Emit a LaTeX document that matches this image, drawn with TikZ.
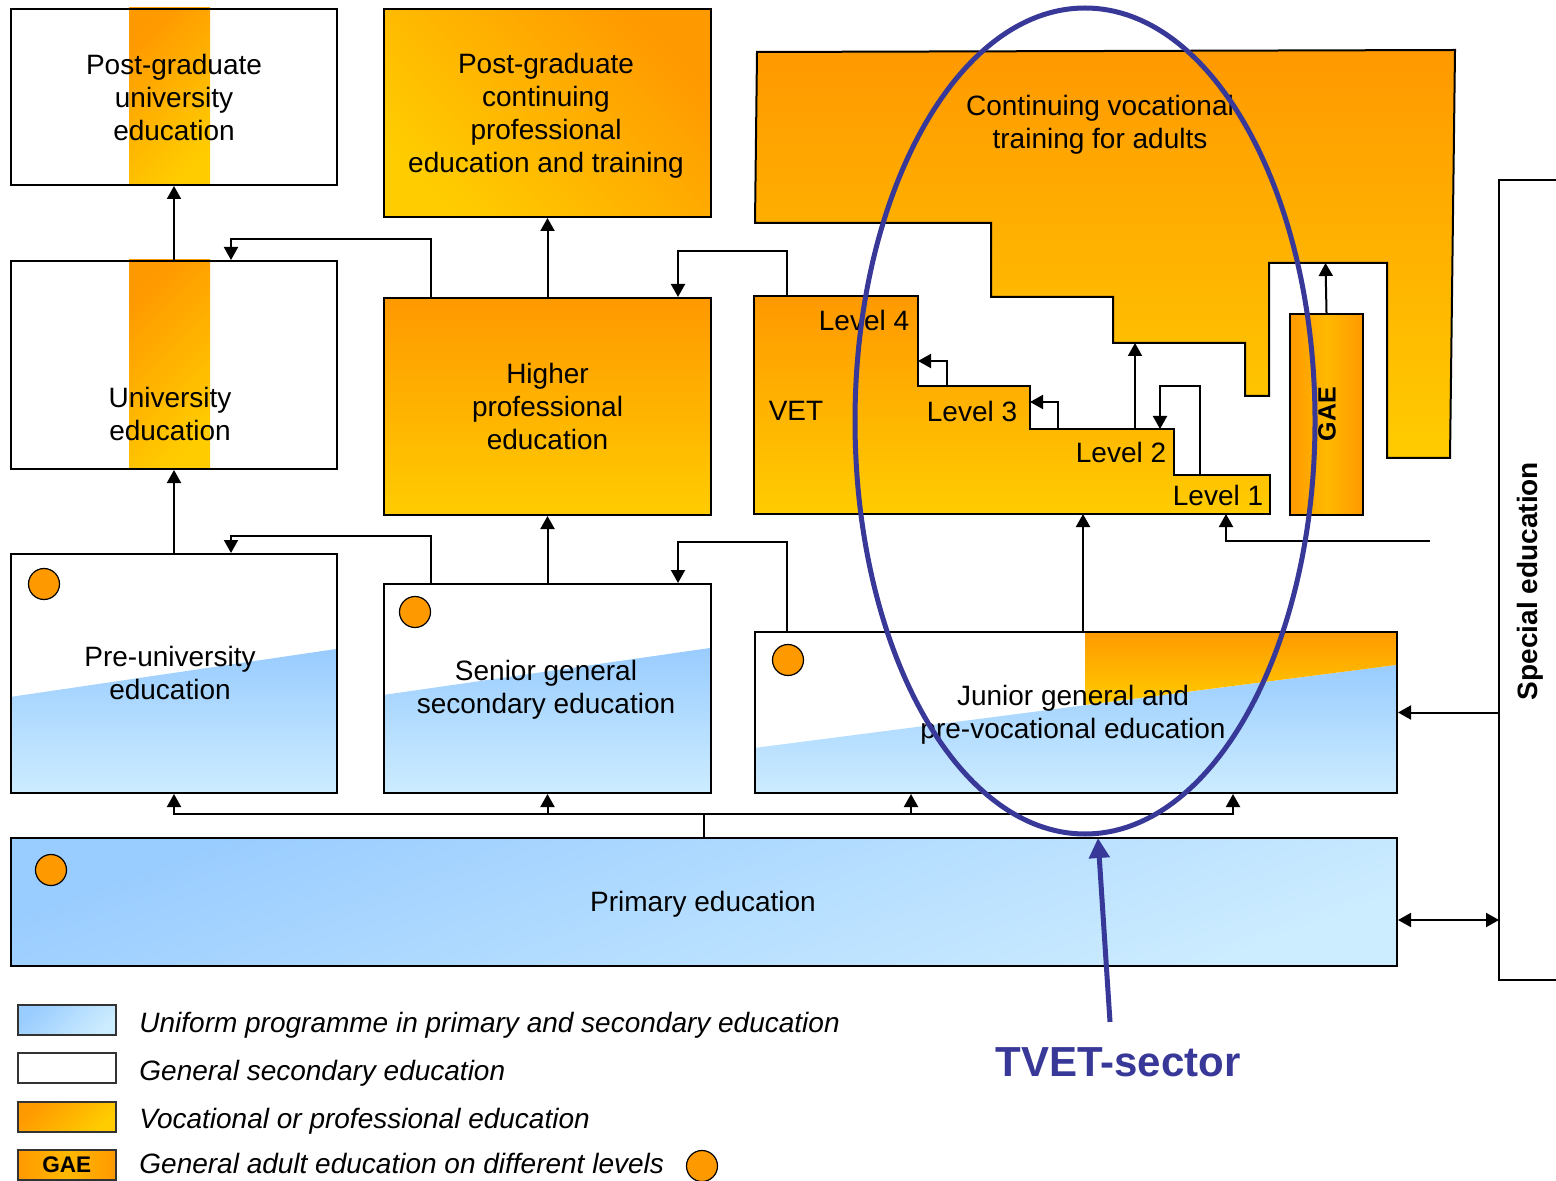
\documentclass[tikz,border=0pt]{standalone}
\usepackage{fontspec}
\setmainfont{Liberation Sans}
\usetikzlibrary{arrows.meta,shapes.geometric,calc}
\definecolor{orng}{RGB}{255,153,0}
\definecolor{ylw}{RGB}{255,204,0}
\definecolor{gaemid}{RGB}{255,185,0}
\definecolor{bluetop}{RGB}{153,204,255}
\definecolor{bluebot}{RGB}{204,236,255}
\definecolor{tvetc}{RGB}{56,56,152}
\begin{document}
\begin{tikzpicture}[x=0.5pt,y=-0.5pt,
  box/.style={draw, line width=1pt, inner sep=0pt, anchor=north west, align=center, font=\fontsize{14}{16.5}\selectfont},
  txt/.style={font=\fontsize{14}{16.5}\selectfont, align=center, inner sep=0pt},
  legt/.style={font=\fontsize{14}{16.5}\selectfont\itshape, inner sep=0pt, anchor=base west},
  lgbox/.style={draw=black!80, line width=0.8pt, inner sep=0pt, anchor=north west, minimum width=49pt, minimum height=15pt},
  arr/.style={line width=1pt, -{Triangle[length=6.5pt,width=7pt]}},
  arrtwo/.style={line width=1pt, {Triangle[length=6.5pt,width=7pt]}-{Triangle[length=6.5pt,width=7pt]}},
  ln/.style={line width=1pt},
  dot/.style={circle, draw, line width=0.6pt, fill=orng, minimum size=15.5pt, inner sep=0pt},
  orgrad/.style={top color=orng, bottom color=ylw},
  blgrad/.style={top color=bluetop, bottom color=bluebot},
  gaegrad/.style={left color=orng, right color=orng, middle color=gaemid}
]
\useasboundingbox (0,0) rectangle (1556,1181);

% --- background fills ---
\shade[orgrad, shading angle=45] (129,8) rectangle (210,184);
\shade[orgrad, shading angle=45] (129,260) rectangle (210,468);
\shade[blgrad] (10,697) -- (336,649) -- (336,792) -- (10,792) -- cycle;
\shade[blgrad] (383,695) -- (710,648) -- (710,792) -- (383,792) -- cycle;
\shade[blgrad] (754,748) -- (1396,665) -- (1396,792) -- (754,792) -- cycle;
\shade[orgrad] (1085,631) -- (1396,631) -- (1396,665) -- (1085,705) -- cycle;

% --- vocational shapes ---
\shadedraw[ln, orgrad] (757,52) -- (1455,50) -- (1450,458) -- (1387,458) -- (1387,263) -- (1269,263) -- (1269,396) -- (1245,396) -- (1245,343) -- (1113,343) -- (1113,297) -- (991,297) -- (991,223) -- (755,223) -- cycle;
\shadedraw[ln, orgrad] (754,296) -- (918,296) -- (918,386) -- (1030,386) -- (1030,429) -- (1174,429) -- (1174,475) -- (1270,475) -- (1270,514) -- (754,514) -- cycle;
\node[txt] (cvtT) at (1100,125) {Continuing vocational\\training for adults};
\node[txt] (l4T) at (864,320) {Level 4};
\node[txt] (vetT) at (796,411) {VET};
\node[txt] (l3T) at (972,411) {Level 3};
\node[txt] (l2T) at (1121,452) {Level 2};
\node[txt] (l1T) at (1218,495) {Level 1};

% --- boxes ---
\node[box, minimum width=163pt, minimum height=88pt] (pgu) at (10,8) {Post-graduate\\university\\education};
\node[box, minimum width=163pt, minimum height=104pt] (uni) at (10,260) {};
\node[txt] (uniT) at (170,414) {University\\education};
\node[box, top color=orng, bottom color=ylw, shading angle=-45, minimum width=163.5pt, minimum height=104pt] (pgc) at (383,8) {};
\node[txt] (pgcT) at (546,116) {Post-graduate\\continuing\\professional\\education and training};
\node[box, orgrad, minimum width=163.5pt, minimum height=108.5pt] (hpe) at (383,297) {Higher\\professional\\education};
\node[box, minimum width=163pt, minimum height=119.5pt] (pre) at (10,553) {};
\node[txt] (preT) at (170,673) {Pre-university\\education};
\node[box, minimum width=163.5pt, minimum height=104.5pt] (sen) at (383,583) {};
\node[txt] (senT) at (546,690) {Senior general\\secondary education};
\node[box, minimum width=321pt, minimum height=80.5pt] (jun) at (754,631) {};
\node[txt] (junT) at (1073,715) {Junior general and\\pre-vocational education};
\node[box, blgrad, shading angle=20, minimum width=693pt, minimum height=64pt] (pri) at (10,837) {};
\node[txt] (priT) at (703,904) {Primary education};
\node[box, gaegrad, minimum width=36.5pt, minimum height=100.5pt] (gae) at (1289,313) {};
\node[rotate=90, font=\fontsize{12.5}{14}\selectfont\bfseries, inner sep=0pt] (gaeT) at (1327,414) {GAE};
\node[inner sep=0pt, anchor=north west, minimum width=28.5pt, minimum height=399.5pt] (spe) at (1499,180) {};
\draw[ln] (spe.north east) -- (spe.north west) -- (spe.south west) -- (spe.south east);
\node[rotate=90, font=\fontsize{14}{16.5}\selectfont\bfseries, inner sep=0pt] (speT) at (1530,581) {Special education};

% --- dots ---
\node[dot] (d1) at (44,584) {};
\node[dot] (d2) at (415,612) {};
\node[dot] (d3) at (788,660) {};
\node[dot] (d4) at (51,870) {};

% --- coordinates ---
\coordinate (vetTop) at (787,296);
\coordinate (vetBot) at (1083,514);
\coordinate (vetBotB) at (1226,514);
\coordinate (feed) at (1430,541);
\coordinate (lthreetop) at (947,386);
\coordinate (lfourwall) at (918,361);
\coordinate (ltwotop) at (1058,429);
\coordinate (lthreewall) at (1030,402);
\coordinate (ltwotopB) at (1135,429);
\coordinate (cvtStep) at (1135,343);
\coordinate (lonetop) at (1200,475);
\coordinate (ltwotopC) at (1160,429);
\coordinate (cvtGap) at (1325.5,263);

% --- connectors ---
\draw[arr] (uni.north) -- (pgu.south);
\draw[arr] ([xshift=24pt]hpe.north west) -- ++(0,-58) -| ([xshift=28.5pt]uni.north);
\draw[arr] (hpe.north) -- (pgc.south);
\draw[arr] (vetTop) -- ++(0,-45) -| ([xshift=147.5pt]hpe.north west);
\draw[arr] (pre.north) -- (uni.south);
\draw[arr] ([xshift=24pt]sen.north west) -- ++(0,-47) -| ([xshift=28.5pt]pre.north);
\draw[arr] (sen.north) -- (hpe.south);
\draw[arr] ([xshift=16.5pt]jun.north west) -- ++(0,-89) -| ([xshift=147.5pt]sen.north west);
\draw[arr] ([xshift=164.5pt]jun.north west) -- (vetBot);
\draw[arr] (lthreetop) |- (lfourwall);
\draw[arr] (ltwotop) |- (lthreewall);
\draw[arr] (ltwotopB) -- (cvtStep);
\draw[arr] (lonetop) -- ++(0,-89) -| (ltwotopC);
\draw[arr] (gae.north) -- (cvtGap);
\draw[arr] (feed) -| (vetBotB);
\draw[ln] (pri.north) -- ++(0,-23) coordinate (bus);
\draw[arr] (bus) -| (pre.south);
\draw[arr] (bus) -| (sen.south);
\draw[arr] (bus) -| ([xshift=78.5pt]jun.south west);
\draw[arr] (bus) -| ([xshift=239.5pt]jun.south west);
\draw[arr] (spe.west |- jun.east) -- (jun.east);
\draw[arrtwo] ([yshift=-9pt]pri.east) -- ([yshift=-9pt]pri.east -| spe.west);

% --- TVET ellipse ---
\node[ellipse, draw=tvetc, line width=2.5pt, minimum width=230pt, minimum height=413pt, inner sep=0pt] (tvet) at (1085,421) {};
\node[font=\fontsize{21}{24}\selectfont\bfseries, text=tvetc, inner sep=0pt] (tvetL) at (1118,1062) {TVET-sector};
\coordinate (tvetTip) at (1098,838);
\draw[tvetc, line width=2.5pt, -{Triangle[length=10pt,width=10pt]}] ([xshift=-4pt,yshift=12.5pt]tvetL.north) -- (tvetTip);

% --- legend ---
\node[lgbox, blgrad, shading angle=45] (lg1) at (17,1004) {};
\node[lgbox] (lg2) at (17,1052) {};
\node[lgbox, orgrad, shading angle=45] (lg3) at (17,1101) {};
\node[lgbox, gaegrad, font=\fontsize{11.3}{13}\selectfont\bfseries] (lg4) at (17,1149) {GAE};
\node[legt] (lt1) at (139,1032) {Uniform programme in primary and secondary education};
\node[legt] (lt2) at (139,1080) {General secondary education};
\node[legt] (lt3) at (139,1128) {Vocational or professional education};
\node[legt] (lt4) at (139,1173) {General adult education on different levels};
\node[dot] (d5) at (702,1166) {};
\end{tikzpicture}
\end{document}
